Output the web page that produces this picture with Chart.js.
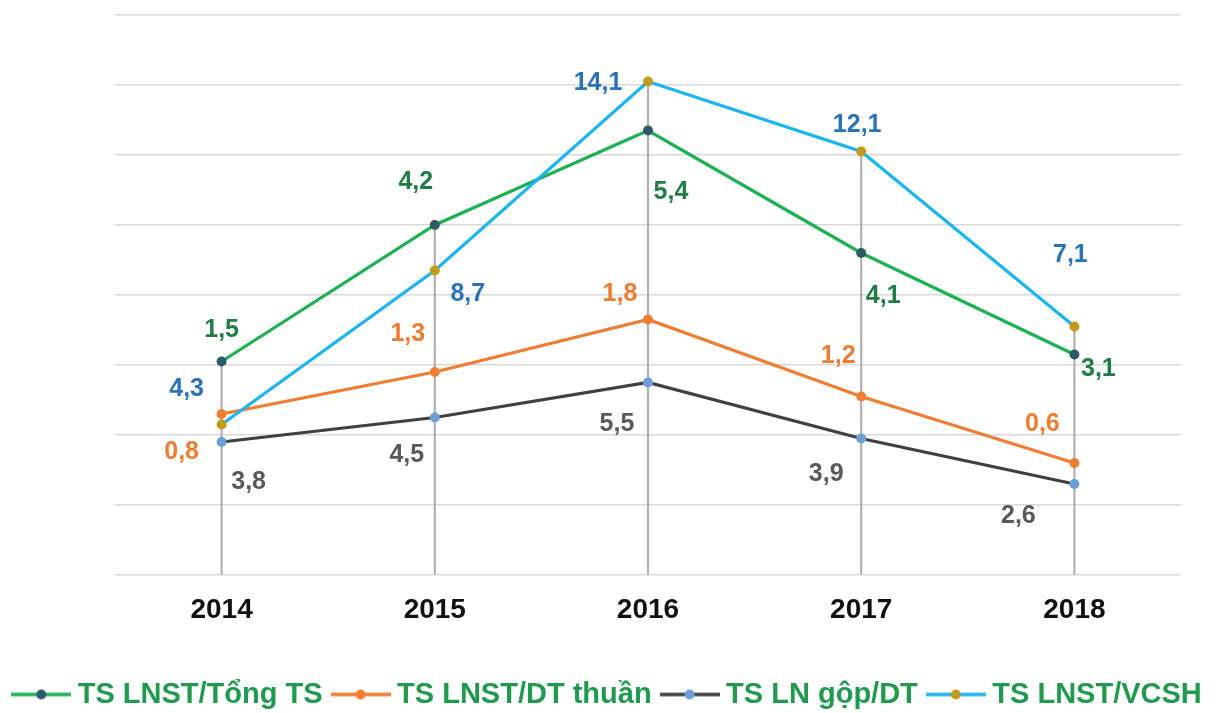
<!DOCTYPE html>
<html><head><meta charset="utf-8">
<script src="https://cdn.jsdelivr.net/npm/chart.js@4.4.0/dist/chart.umd.min.js"></script>
<style>html,body{margin:0;padding:0;background:#fff;}</style>
</head><body>
<canvas id="c" width="1221" height="713"></canvas>
<script>
// ---- data ----
const categories = ['2014', '2015', '2016', '2017', '2018'];
const seriesNames = ['TS LNST/Tổng TS', 'TS LNST/DT thuần', 'TS LN gộp/DT', 'TS LNST/VCSH'];
// plotted heights (read against the 0–16 gridline scale)
const roaValues = [6.1, 10.0, 12.7, 9.2, 6.3];
const netMarginValues = [4.6, 5.8, 7.3, 5.1, 3.2];
const grossMarginValues = [3.8, 4.5, 5.5, 3.9, 2.6];
const roeValues = [4.3, 8.7, 14.1, 12.1, 7.1];
// printed value labels
const roaLabels = [1.5, 4.2, 5.4, 4.1, 3.1];
const netMarginLabels = [0.8, 1.3, 1.8, 1.2, 0.6];
const grossMarginLabels = [3.8, 4.5, 5.5, 3.9, 2.6];
const roeLabels = [4.3, 8.7, 14.1, 12.1, 7.1];
const yTicks = [0, 2, 4, 6, 8, 10, 12, 14, 16];

const FONT = '"Liberation Sans", Arial, sans-serif';
const fmt = v => v.toFixed(1).replace('.', ',');

function legendMarker(lineColor, dotColor) {
  const c = document.createElement('canvas');
  c.width = 60; c.height = 12;
  const g = c.getContext('2d');
  g.strokeStyle = lineColor; g.lineWidth = 3.5;
  g.beginPath(); g.moveTo(0, 6); g.lineTo(60, 6); g.stroke();
  g.fillStyle = dotColor;
  g.beginPath(); g.arc(30, 6, 5, 0, Math.PI * 2); g.fill();
  return c;
}

const dropValues = categories.map((_, i) => Math.max(roaValues[i], netMarginValues[i], grossMarginValues[i], roeValues[i]));

const valueLabelPlugin = {
  id: 'valueLabels',
  afterDatasetsDraw(chart) {
    const ctx = chart.ctx;
    chart.data.datasets.forEach((ds, di) => {
      if (!ds.valueLabels) return;
      const meta = chart.getDatasetMeta(di);
      ctx.save();
      ctx.font = 'bold 25px ' + FONT;
      ctx.fillStyle = ds.labelColor;
      ctx.textAlign = 'center';
      ctx.textBaseline = 'middle';
      meta.data.forEach((pt, i) => {
        const off = ds.labelOffsets[i];
        ctx.fillText(fmt(ds.valueLabels[i]), pt.x + off[0], pt.y + off[1]);
      });
      ctx.restore();
    });
  }
};

new Chart(document.getElementById('c'), {
  type: 'line',
  data: {
    labels: categories,
    datasets: [
      {
        label: seriesNames[3], data: roeValues, valueLabels: roeLabels,
        borderColor: '#1cb5ef', pointBackgroundColor: '#c29a1c', pointBorderColor: '#c29a1c',
        labelColor: '#2b73b9', marker: legendMarker('#1cb5ef', '#c29a1c'),
        labelOffsets: [[-35, -35], [33, 24], [-50, 2], [-4, -26], [-4, -71]], order: 1
      },
      {
        label: seriesNames[0], data: roaValues, valueLabels: roaLabels,
        borderColor: '#1db152', pointBackgroundColor: '#2e5b6a', pointBorderColor: '#2e5b6a',
        labelColor: '#1f7d45', marker: legendMarker('#1db152', '#2e5b6a'),
        labelOffsets: [[0, -31], [-19, -43], [23, 62], [22, 43], [24, 15]], order: 2
      },
      {
        label: seriesNames[1], data: netMarginValues, valueLabels: netMarginLabels,
        borderColor: '#ef7d32', pointBackgroundColor: '#ef7d32', pointBorderColor: '#ef7d32',
        labelColor: '#ee7c30', marker: legendMarker('#ef7d32', '#ef7d32'),
        labelOffsets: [[-40, 38], [-27, -38], [-28, -25], [-23, -40], [-32, -39]], order: 3
      },
      {
        label: seriesNames[2], data: grossMarginValues, valueLabels: grossMarginLabels,
        borderColor: '#404040', pointBackgroundColor: '#6b9fd6', pointBorderColor: '#6b9fd6',
        labelColor: '#595959', marker: legendMarker('#404040', '#6b9fd6'),
        labelOffsets: [[27, 40], [-28, 38], [-31, 42], [-35, 36], [-56, 32]], order: 4
      },
      {
        type: 'bar', label: 'drop', data: dropValues, backgroundColor: '#b0b0b0',
        barThickness: 1.5, order: 10, isDrop: true
      }
    ]
  },
  options: {
    responsive: false,
    animation: false,
    events: [],
    layout: { padding: { top: 15, bottom: -6, left: 0, right: 0 } },
    elements: {
      line: { borderWidth: 3.2, tension: 0, fill: false },
      point: { radius: 5, borderWidth: 0, hoverRadius: 5 }
    },
    scales: {
      x: {
        offset: true,
        grid: { display: false, drawTicks: false },
        border: { display: false },
        ticks: { color: '#111', font: { family: FONT, size: 28, weight: 'bold' }, padding: 18 },
        afterFit: s => { s.height = 89; }
      },
      y: {
        min: 0, max: 16,
        afterBuildTicks: s => { s.ticks = yTicks.map(v => ({ value: v })); },
        ticks: { display: false },
        grid: { color: '#d9d9d9', lineWidth: 1.5, drawTicks: false },
        border: { display: false },
        afterFit: s => { s.width = 115; }
      },
      yRight: {
        position: 'right', min: 0, max: 1,
        ticks: { display: false }, grid: { display: false, drawTicks: false }, border: { display: false },
        afterFit: s => { s.width = 40; }
      }
    },
    plugins: {
      tooltip: { enabled: false },
      legend: {
        position: 'bottom',
        labels: {
          usePointStyle: true,
          pointStyleWidth: 44,
          padding: 16,
          color: '#1f9a4e',
          font: { family: FONT, size: 29, weight: 'bold' },
          filter: item => item.text !== 'drop',
          generateLabels: chart => {
            const items = Chart.defaults.plugins.legend.labels.generateLabels(chart);
            items.forEach(it => {
              const ds = chart.data.datasets[it.datasetIndex];
              if (ds.marker) it.pointStyle = ds.marker;
            });
            return items.filter(it => it.text !== 'drop')
              .sort((a, b) => seriesNames.indexOf(a.text) - seriesNames.indexOf(b.text));
          }
        }
      }
    }
  },
  plugins: [valueLabelPlugin]
});
</script>
</body></html>
